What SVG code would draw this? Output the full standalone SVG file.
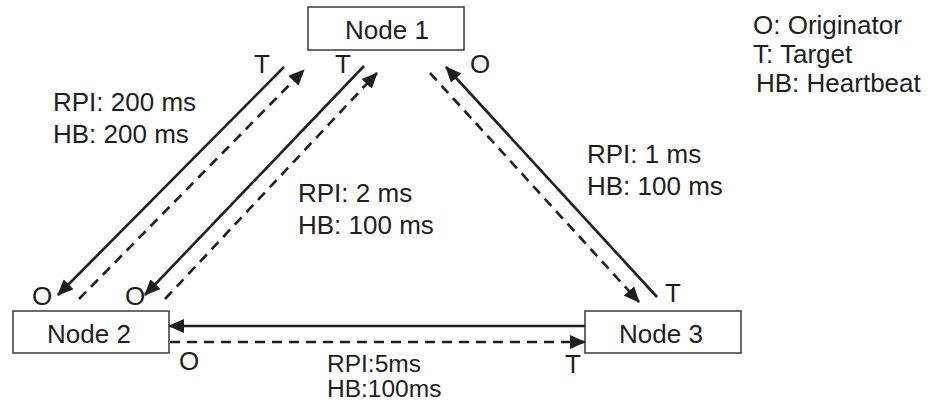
<svg xmlns="http://www.w3.org/2000/svg" width="936" height="402" viewBox="0 0 936 402">
  <style>
    text { font-family: "Liberation Sans", Arial, sans-serif; font-size: 26px; fill: #1e1e1e; }
    .box { fill: #ffffff; stroke: #3a3a3a; stroke-width: 1.5; }
    .solid { stroke: #1e1e1e; stroke-width: 2.6; fill: none; }
    .dash { stroke: #1e1e1e; stroke-width: 2.6; fill: none; stroke-dasharray: 10 7; }
    .tight { font-size: 24.5px; }
  </style>
  <defs>
    <marker id="ah" viewBox="0 0 16 14" refX="15" refY="7" markerWidth="16" markerHeight="14" markerUnits="userSpaceOnUse" orient="auto">
      <path d="M0,0 L16,7 L0,14 Z" fill="#1e1e1e" stroke="none"/>
    </marker>
  </defs>

  <g id="node1">
    <rect class="box" x="308" y="7" width="156" height="43"/>
    <text x="387" y="39" text-anchor="middle">Node 1</text>
  </g>
  <g id="node2">
    <rect class="box" x="13" y="311" width="156" height="42"/>
    <text x="89" y="343" text-anchor="middle">Node 2</text>
  </g>
  <g id="node3">
    <rect class="box" x="585" y="311" width="156" height="42"/>
    <text x="661" y="343" text-anchor="middle">Node 3</text>
  </g>

  <g id="connectors">
    <line class="solid" x1="284" y1="67" x2="58" y2="295" marker-end="url(#ah)"/>
    <line class="dash" x1="79" y1="299" x2="304" y2="70" marker-end="url(#ah)"/>
    <line class="solid" x1="364" y1="66" x2="145" y2="295" marker-end="url(#ah)"/>
    <line class="dash" x1="165" y1="299" x2="377" y2="73" marker-end="url(#ah)"/>
    <line class="solid" x1="657" y1="297" x2="446" y2="67" marker-end="url(#ah)"/>
    <line class="dash" x1="430" y1="73" x2="639" y2="302" marker-end="url(#ah)"/>
    <line class="solid" x1="585" y1="326" x2="169" y2="326" marker-end="url(#ah)"/>
    <line class="dash" x1="170" y1="342" x2="585" y2="342" marker-end="url(#ah)"/>
  </g>

  <g id="labels">
    <text x="53" y="111">RPI: 200 ms</text>
    <text x="53" y="143">HB: 200 ms</text>
    <text x="298" y="202">RPI: 2 ms</text>
    <text x="298" y="234">HB: 100 ms</text>
    <text x="587" y="163">RPI: 1 ms</text>
    <text x="587" y="195">HB: 100 ms</text>
    <text class="tight" x="327" y="372">RPI:5ms</text>
    <text class="tight" x="327" y="397">HB:100ms</text>

    <text x="254" y="73">T</text>
    <text x="335" y="73">T</text>
    <text x="470" y="73">O</text>
    <text x="32" y="305">O</text>
    <text x="125" y="305">O</text>
    <text x="665" y="302">T</text>
    <text x="179" y="370">O</text>
    <text x="565" y="373">T</text>
  </g>

  <g id="legend">
    <text x="753" y="34">O: Originator</text>
    <text x="753" y="63">T: Target</text>
    <text x="756" y="92">HB: Heartbeat</text>
  </g>
</svg>
